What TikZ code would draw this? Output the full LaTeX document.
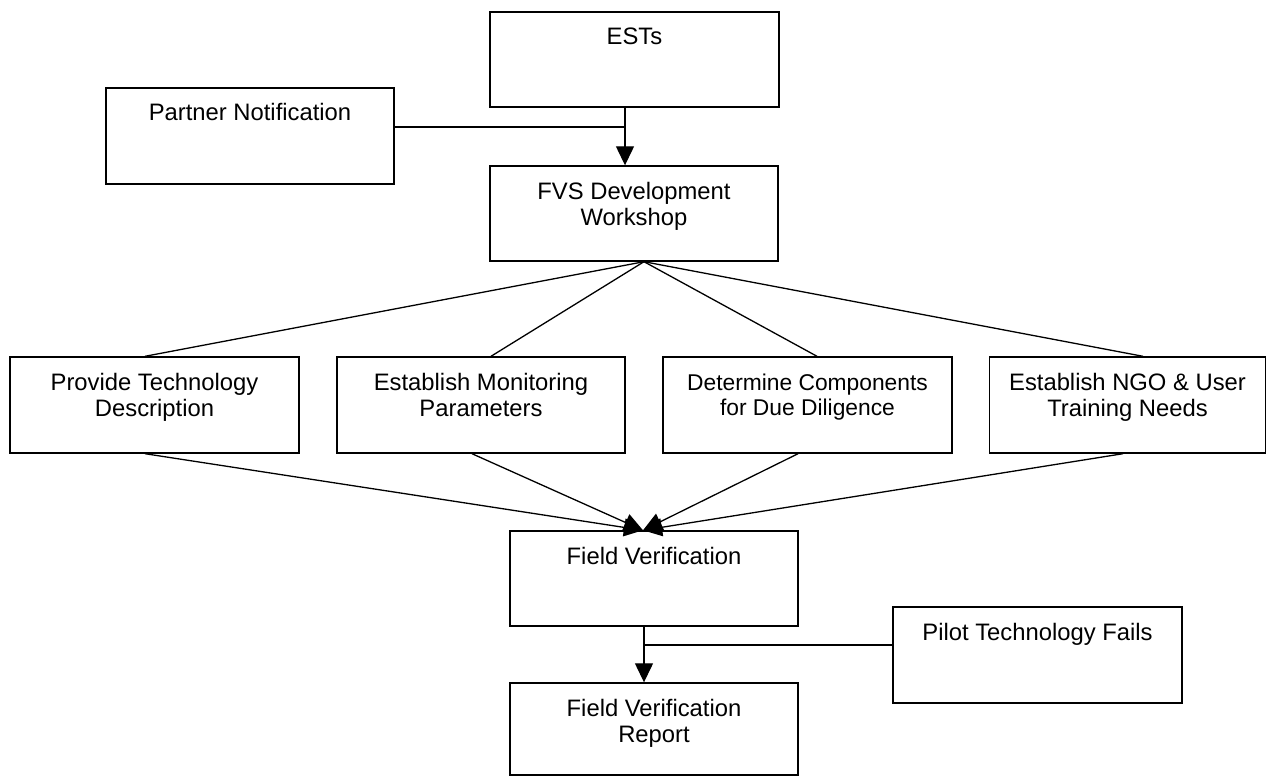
\documentclass[tikz,border=0pt]{standalone}
\usepackage{fontspec}
\setmainfont{Liberation Sans}
\usetikzlibrary{arrows.meta}
\newcommand\bxt[3]{\parbox[c][#2][t]{#1}{\centering\rule{0pt}{33pt}#3}}
\begin{document}
\begin{tikzpicture}[x=1pt,y=-1pt,
  box/.style={draw, line width=1.4pt, inner sep=0pt, font=\fontsize{23.8}{26.7}\selectfont},
  conn/.style={line width=1.3pt},
  arr/.style={line width=1.3pt, -{Triangle[length=19pt,width=18pt]}}]
\useasboundingbox (0,0) rectangle (1267,776);
\node[box] (ests) at (634.5,59.5) {\bxt{289pt}{95pt}{ESTs}};
\node[box] (partner) at (250,136) {\bxt{288pt}{96pt}{Partner Notification}};
\node[box] (fvs) at (634,213.5) {\bxt{288pt}{95pt}{FVS Development\\Workshop}};
\node[box] (prov) at (154.5,405) {\bxt{289pt}{96pt}{Provide Technology\\Description}};
\node[box] (mon) at (481,405) {\bxt{288pt}{96pt}{Establish Monitoring\\Parameters}};
\node[box, font=\fontsize{22.8}{25.8}\selectfont] (det) at (807.5,405) {\bxt{289pt}{96pt}{Determine Components\\for Due Diligence}};
\node[box] (ngo) at (1127.5,405) {\bxt{276pt}{96pt}{Establish NGO \& User\\Training Needs}};
\node[box] (fv) at (654,578.5) {\bxt{288pt}{95pt}{Field Verification}};
\node[box] (pilot) at (1037.5,655) {\bxt{289pt}{96pt}{Pilot Technology Fails}};
\node[box] (rep) at (654,729) {\bxt{288pt}{92pt}{Field Verification\\Report}};
% top part
\coordinate (eb) at ([xshift=-9.5pt]ests.south);
\coordinate (pe) at ([yshift=9pt]partner.east);
\coordinate (j1) at (eb |- pe);
\draw[conn] (pe) -- (j1);
\draw[arr] (eb) -- (eb |- fvs.north);
% fan out
\coordinate (fb) at ([xshift=10pt]fvs.south);
\draw[conn] (fb) -- ([xshift=-9.5pt]prov.north);
\draw[conn] (fb) -- ([xshift=10pt]mon.north);
\draw[conn] (fb) -- ([xshift=9.5pt]det.north);
\draw[conn] (fb) -- ([xshift=15.5pt]ngo.north);
% fan in
\coordinate (ft) at ([xshift=-11pt]fv.north);
\draw[arr] ([xshift=-9.5pt]prov.south) -- (ft);
\draw[arr] ([xshift=-9pt]mon.south) -- (ft);
\draw[arr] ([xshift=-9.5pt]det.south) -- (ft);
\draw[arr] ([xshift=-4.5pt]ngo.south) -- (ft);
% bottom
\coordinate (fvb) at ([xshift=-10pt]fv.south);
\coordinate (pw) at ([yshift=10pt]pilot.west);
\coordinate (j2) at (fvb |- pw);
\draw[conn] (pw) -- (j2);
\draw[arr] (fvb) -- (fvb |- rep.north);
\end{tikzpicture}
\end{document}
